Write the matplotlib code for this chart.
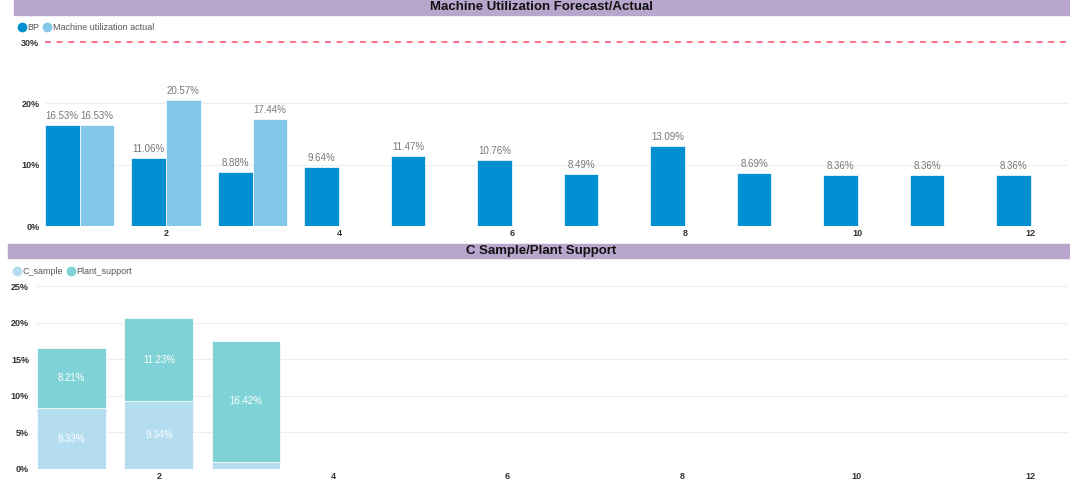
import numpy as np
import matplotlib
matplotlib.use("Agg")
import matplotlib.pyplot as plt
from matplotlib.patches import Rectangle
from matplotlib.lines import Line2D

plt.rcParams['font.family'] = ['Liberation Sans', 'DejaVu Sans']

# data
months = np.arange(1, 13)
bp = [16.53, 11.06, 8.88, 9.64, 11.47, 10.76, 8.49, 13.09, 8.69, 8.36, 8.36, 8.36]
actual = [16.53, 20.57, 17.44]
c_sample = [8.33, 9.34, 1.02]
plant_support = [8.21, 11.23, 16.42]
target = 30

top_title = "Machine Utilization Forecast/Actual"
bottom_title = "C Sample/Plant Support"

c_bp = "#008FD0"
c_act = "#82C6E8"
c_cs = "#B4DDF0"
c_ps = "#7FD3D7"
band = "#B8A6CC"
grid_c = "#EEEEEE"

fig = plt.figure(figsize=(10.7, 4.88), dpi=100)

# title bands
fig.patches.append(Rectangle((14 / 1070, 1 - 15 / 488), 1, 15 / 488,
                             transform=fig.transFigure, color=band, zorder=0))
fig.text(542 / 1070, 1 - 7.5 / 488, top_title, ha="center", va="center",
         fontsize=9.5, fontweight="bold", color="#111111")
fig.patches.append(Rectangle((8 / 1070, 1 - 258 / 488), 1, 14 / 488,
                             transform=fig.transFigure, color=band, zorder=0))
fig.text(541 / 1070, 1 - 251 / 488, bottom_title, ha="center", va="center",
         fontsize=9.5, fontweight="bold", color="#111111")


def style_axis(ax):
    for s in ax.spines.values():
        s.set_visible(False)
    ax.grid(axis="y", color=grid_c, linewidth=0.8)
    ax.set_axisbelow(True)
    ax.tick_params(length=0, labelsize=6.5, labelcolor="#333333")
    ax.set_xticks([2, 4, 6, 8, 10, 12])
    for lbl in ax.get_xticklabels() + ax.get_yticklabels():
        lbl.set_fontweight("bold")


def dot_legend(ax, colors, names, anchor):
    handles = [Line2D([], [], linestyle="none", marker="o", markersize=6,
                      markerfacecolor=c, markeredgecolor=c) for c in colors]
    ax.legend(handles, names, loc="lower left", bbox_to_anchor=anchor, ncol=2,
              frameon=False, fontsize=6.5, handlelength=0.7, handletextpad=0.25,
              columnspacing=0.5, borderaxespad=0, labelcolor="#555555")


# top chart
ax1 = fig.add_axes([45 / 1070, 1 - 226 / 488, 1023 / 1070, 184 / 488])
w = 0.4
b1 = ax1.bar(months - w / 2, bp, w, color=c_bp, edgecolor="white", linewidth=0.5)
b2 = ax1.bar(months[:len(actual)] + w / 2, actual, w, color=c_act, edgecolor="white",
             linewidth=0.5)
for bars in (b1, b2):
    for r in bars:
        ax1.text(r.get_x() + r.get_width() / 2, r.get_height() + 0.6,
                 f"{r.get_height():.2f}%", ha="center", va="bottom",
                 fontsize=7, color="#777777")
ax1.axhline(target, color="#FF6F86", linewidth=1.4, dashes=(3, 3), clip_on=False)
ax1.set_xlim(0.6, 12.43)
ax1.set_ylim(0, 30)
ax1.set_yticks([0, 10, 20, 30])
ax1.set_yticklabels(["0%", "10%", "20%", "30%"])
style_axis(ax1)
ax1.tick_params(axis="x", pad=2)
ax1.tick_params(axis="y", pad=4)
dot_legend(ax1, [c_bp, c_act], ["BP", "Machine utilization actual"], (-0.029, 1.035))

# bottom chart
ax2 = fig.add_axes([36 / 1070, 1 - 469 / 488, 1032 / 1070, 183 / 488])
x2 = months[:len(c_sample)]
w2 = 0.79
s1 = ax2.bar(x2, c_sample, w2, color=c_cs, edgecolor="white", linewidth=0.5)
s2 = ax2.bar(x2, plant_support, w2, bottom=c_sample, color=c_ps, edgecolor="white",
             linewidth=0.5)
for bars, base in ((s1, [0] * len(c_sample)), (s2, c_sample)):
    for r, b in zip(bars, base):
        h = r.get_height()
        if h < 3:
            continue
        ax2.text(r.get_x() + r.get_width() / 2, b + h / 2, f"{h:.2f}%",
                 ha="center", va="center", fontsize=7, color="white")
ax2.set_xlim(0.59, 12.43)
ax2.set_ylim(0, 25)
ax2.set_yticks([0, 5, 10, 15, 20, 25])
ax2.set_yticklabels([f"{v}%" for v in [0, 5, 10, 15, 20, 25]])
style_axis(ax2)
ax2.tick_params(axis="x", pad=2)
ax2.tick_params(axis="y", pad=5)
dot_legend(ax2, [c_cs, c_ps], ["C_sample", "Plant_support"], (-0.025, 1.035))

fig.savefig("out.png", dpi=100)
